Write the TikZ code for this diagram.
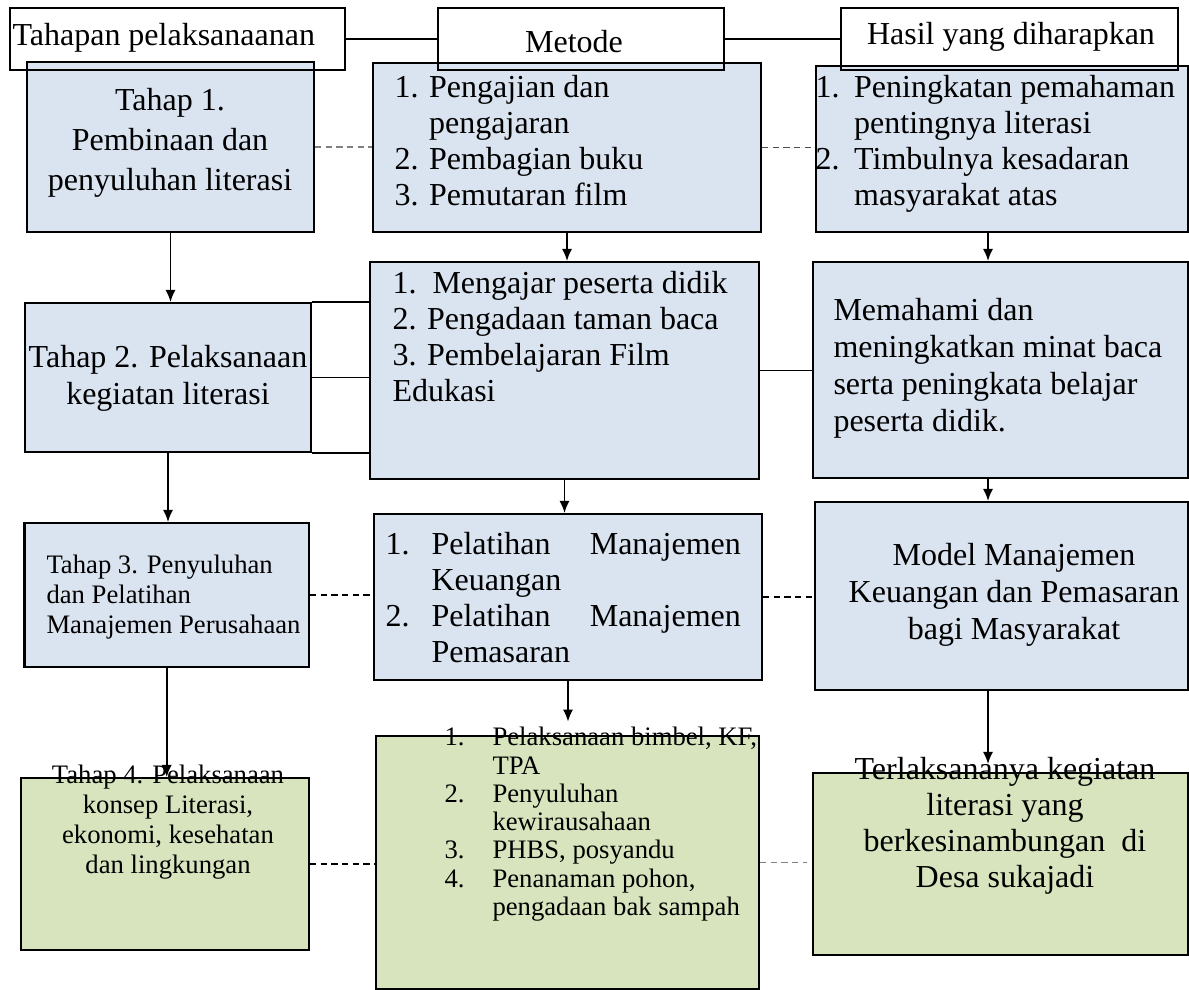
\documentclass[tikz,border=0pt]{standalone}
\usepackage{fontspec}
\setmainfont{Liberation Serif}
\usetikzlibrary{arrows.meta,fit}
\definecolor{birumuda}{HTML}{DAE3F0}
\definecolor{hijaumuda}{HTML}{D7E4BD}

\begin{document}
\begin{tikzpicture}[x=0.375pt, y=-0.375pt,
	kotak/.style={draw, line width=0.8pt, inner sep=0pt},
	biru/.style={kotak, fill=birumuda},
	hijau/.style={kotak, fill=hijaumuda},
	teks/.style={inner sep=0pt, font=\fontsize{12pt}{13.5pt}\selectfont},
	kecil/.style={inner sep=0pt, font=\fontsize{10pt}{11.25pt}\selectfont},
	garis/.style={line width=0.6pt},
	panah/.style={line width=0.6pt, -{Latex[length=4.5pt,width=3.8pt]}},
	putus/.style={line width=0.6pt, dash pattern=on 2.4pt off 1.6pt}]
	\useasboundingbox (0,0) rectangle (1189,990);
	% 1. Kotak baris pertama
	\node[biru, fit={(27,62) (314,232)}] (t1) {};
	\node[biru, fit={(373,63) (761,232)}] (m1) {};
	\node[biru, fit={(816,66) (1188,232)}] (h1) {};
	% 2. Kotak judul (header)
	\node[kotak, fit={(9.6,8) (345,70)}] (hd1) {};
	\node[kotak, fit={(438,8) (724,70)}] (hd2) {};
	\node[kotak, fit={(841,8) (1178,70)}] (hd3) {};
	\node[teks, anchor=west] (hd1txt) at (12,38) {Tahapan pelaksanaanan};
	\node[teks] (hd2txt) at (574,42) {Metode};
	\node[teks] (hd3txt) at (1011,37) {Hasil yang diharapkan};
	\draw[garis] (hd1.east) -- (hd2.west);
	\draw[garis] (hd2.east) -- (hd3.west);
	% 3. Kotak baris kedua dan ketiga
	\node[biru, fit={(25,303) (311,452)}] (t2) {};
	\node[biru, fit={(370,262) (759,479)}] (m2) {};
	\node[biru, fit={(813,262) (1188,478)}] (h2) {};
	\node[biru, fit={(24.5,523) (309,667)}] (t3) {};
	\node[biru, fit={(374,514) (762,680)}] (m3) {};
	\node[biru, fit={(815,502) (1188,690)}] (h3) {};
	% 4. Kotak hijau (baris keempat)
	\node[hijau, fit={(21,778) (309,950)}] (t4) {};
	\node[hijau, fit={(376,736) (759,989)}] (m4) {};
	\node[hijau, fit={(813,773) (1188,955)}] (h4) {};
	% Teks baris pertama
	\node[teks, align=center, font=\fontsize{12pt}{15pt}\selectfont] (t1txt) at (170,143) {Tahap 1.\\Pembinaan dan\\penyuluhan literasi};
	\node[teks, anchor=west] (m1txt) at (394,144) {\begin{tabular}{@{}p{13pt}@{}l@{}}1. & Pengajian dan\\ & pengajaran\\ 2. & Pembagian buku\\ 3. & Pemutaran film\end{tabular}};
	\node[teks, anchor=west] (h1txt) at (815,144) {\begin{tabular}{@{}p{14.5pt}@{}l@{}}1. & Peningkatan pemahaman\\ & pentingnya literasi\\ 2. & Timbulnya kesadaran\\ & masyarakat atas\end{tabular}};
	% Teks baris kedua
	\node[teks, align=center, font=\fontsize{12pt}{13.9pt}\selectfont] (t2txt) at (168,378) {Tahap 2. Pelaksanaan\\kegiatan literasi};
	\node[teks, anchor=west, align=left] (m2txt) at (392,337) {1.\ \ Mengajar peserta didik\\2. Pengadaan taman baca\\3. Pembelajaran Film\\Edukasi};
	\node[teks, anchor=west, align=left, font=\fontsize{12pt}{13.9pt}\selectfont] (h2txt) at (833,368) {Memahami dan\\meningkatkan minat baca\\serta peningkata belajar\\peserta didik.};
	% Teks baris ketiga
	\node[kecil, anchor=west, align=left] (t3txt) at (46,597) {Tahap 3. Penyuluhan\\dan Pelatihan\\Manajemen Perusahaan};
	\node[teks, anchor=west] (m3txt) at (385,601) {\begin{tabular}{@{}p{17.25pt}@{}l@{}}1. & \hbox to 116pt{Pelatihan\hfill Manajemen}\\ & Keuangan\\ 2. & \hbox to 116pt{Pelatihan\hfill Manajemen}\\ & Pemasaran\end{tabular}};
	\node[teks, align=center, font=\fontsize{12pt}{13.9pt}\selectfont] (h3txt) at (1014,595) {Model Manajemen\\Keuangan dan Pemasaran\\bagi Masyarakat};
	% Teks baris keempat
	\node[kecil, align=center] (t4txt) at (168,822) {Tahap 4. Pelaksanaan\\konsep Literasi,\\ekonomi, kesehatan\\dan lingkungan};
	\node[kecil, anchor=west, font=\fontsize{10pt}{10.6pt}\selectfont] (m4txt) at (444,825) {\begin{tabular}{@{}p{18pt}@{}l@{}}1. & Pelaksanaan bimbel, KF,\\ & TPA\\ 2. & Penyuluhan\\ & kewirausahaan\\ 3. & PHBS, posyandu\\ 4. & Penanaman pohon,\\ & pengadaan bak sampah\end{tabular}};
	\node[teks, align=center] (h4txt) at (1005,826) {Terlaksananya kegiatan\\literasi yang\\berkesinambungan\ \ di\\Desa sukajadi};
	% 5. Panah tegak
	\coordinate (hx) at (988,0);
	\draw[panah] (t1.south) -- (t1.south |- t2.north);
	\draw[panah] (t2.south) -- (t2.south |- t3.north);
	\draw[panah] (t3.south) -- (t3.south |- t4.north);
	\draw[panah] (m1.south) -- (m1.south |- m2.north);
	\draw[panah] (m2.south) -- (m2.south |- m3.north);
	\draw[panah, shorten >=5pt] (m3.south) -- (m3.south |- m4.north);
	\draw[panah] (h1.south -| hx) -- (h2.north -| hx);
	\draw[panah] (h2.south -| hx) -- (h3.north -| hx);
	\draw[panah, shorten >=3pt] (h3.south -| hx) -- (h4.north -| hx);
	% 6. Garis mendatar
	\draw[garis] (t2.north east) -- (t2.north east -| m2.west);
	\draw[garis] (t2.east) -- (t2.east -| m2.west);
	\draw[garis] (t2.south east) -- (t2.south east -| m2.west);
	\draw[garis] (m2.east) -- (m2.east -| h2.west);
	\draw[putus, gray] (t1.east) -- (t1.east -| m1.west);
	\draw[putus, black!70] (m1.east) -- (m1.east -| h1.west);
	\draw[putus] (t3.east) -- (t3.east -| m3.west);
	\draw[putus] (m3.east) -- (m3.east -| h3.west);
	\draw[putus] (t4.east) -- (t4.east -| m4.west);
	\draw[putus, gray, shorten >=2pt] (m4.east) -- (m4.east -| h4.west);
\end{tikzpicture}
\end{document}
